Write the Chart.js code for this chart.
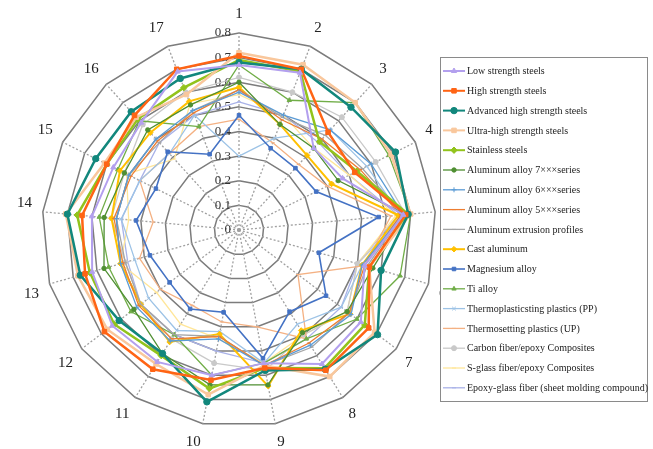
<!DOCTYPE html>
<html>
<head>
<meta charset="utf-8">
<script src="https://cdn.jsdelivr.net/npm/chart.js@4.4.0/dist/chart.umd.min.js"></script>
<style>
html, body { margin: 0; padding: 0; background: #fff; overflow: hidden; }
</style>
</head>
<body>
<canvas id="radarChart" width="653" height="452"></canvas>
<script>
// axes 1..17
const categories = ['1','2','3','4','5','6','7','8','9','10','11','12','13','14','15','16','17'];
const tickLabels = ['0','0.1','0.2','0.3','0.4','0.5','0.6','0.7','0.8'];

const seriesNames = [
    'Low strength steels',
    'High strength steels',
    'Advanced high strength steels',
    'Ultra-high strength steels',
    'Stainless steels',
    'Aluminum alloy 7\u00d7\u00d7\u00d7series',
    'Aluminum alloy 6\u00d7\u00d7\u00d7series',
    'Aluminum alloy 5\u00d7\u00d7\u00d7series',
    'Aluminum extrusion profiles',
    'Cast aluminum',
    'Magnesium alloy',
    'Ti alloy',
    'Thermoplasticsting plastics (PP)',
    'Thermosetting plastics (UP)',
    'Carbon fiber/epoxy Composites',
    'S-glass fiber/epoxy Composites',
    'Epoxy-glass fiber (sheet molding compound)'
];

const lowStrength   = [0.67, 0.685, 0.45, 0.47, 0.67, 0.53, 0.62, 0.64, 0.55, 0.60, 0.63, 0.645, 0.62, 0.60, 0.57, 0.59, 0.69];
const highStrength  = [0.707, 0.70, 0.537, 0.525, 0.68, 0.55, 0.66, 0.67, 0.57, 0.62, 0.665, 0.685, 0.65, 0.64, 0.60, 0.63, 0.70];
const advancedHSS   = [0.68, 0.70, 0.675, 0.71, 0.69, 0.60, 0.705, 0.665, 0.58, 0.71, 0.59, 0.61, 0.67, 0.70, 0.65, 0.65, 0.66];
const ultraHighSS   = [0.72, 0.72, 0.70, 0.69, 0.70, 0.55, 0.69, 0.70, 0.56, 0.68, 0.64, 0.67, 0.68, 0.706, 0.61, 0.62, 0.59];
const stainless     = [0.69, 0.69, 0.485, 0.535, 0.69, 0.55, 0.64, 0.66, 0.57, 0.655, 0.60, 0.635, 0.63, 0.66, 0.60, 0.61, 0.62];
const al7xxx        = [0.60, 0.46, 0.45, 0.45, 0.68, 0.565, 0.55, 0.49, 0.64, 0.64, 0.59, 0.535, 0.57, 0.55, 0.52, 0.55, 0.545];
const al6xxx        = [0.56, 0.50, 0.55, 0.60, 0.67, 0.52, 0.57, 0.55, 0.56, 0.45, 0.53, 0.52, 0.50, 0.50, 0.50, 0.50, 0.52];
const al5xxx        = [0.57, 0.48, 0.50, 0.55, 0.66, 0.53, 0.56, 0.54, 0.56, 0.44, 0.52, 0.51, 0.49, 0.51, 0.49, 0.49, 0.51];
const alExtrusion   = [0.57, 0.49, 0.52, 0.56, 0.67, 0.54, 0.56, 0.56, 0.56, 0.44, 0.50, 0.50, 0.48, 0.50, 0.50, 0.48, 0.52];
const castAluminum  = [0.58, 0.46, 0.41, 0.42, 0.65, 0.52, 0.565, 0.48, 0.645, 0.43, 0.535, 0.50, 0.50, 0.52, 0.54, 0.535, 0.56];
const magnesium     = [0.466, 0.356, 0.34, 0.35, 0.57, 0.337, 0.443, 0.39, 0.53, 0.34, 0.377, 0.353, 0.376, 0.42, 0.377, 0.43, 0.33];
const tiAlloy       = [0.67, 0.565, 0.70, 0.68, 0.70, 0.68, 0.60, 0.52, 0.55, 0.60, 0.50, 0.55, 0.55, 0.57, 0.55, 0.60, 0.45];
const ppPlastic     = [0.30, 0.40, 0.55, 0.58, 0.66, 0.52, 0.52, 0.45, 0.55, 0.42, 0.48, 0.46, 0.44, 0.48, 0.45, 0.42, 0.50];
const upPlastic     = [0.45, 0.38, 0.36, 0.40, 0.62, 0.53, 0.30, 0.52, 0.40, 0.38, 0.36, 0.40, 0.42, 0.35, 0.45, 0.42, 0.45];
const carbonFiber   = [0.62, 0.60, 0.62, 0.62, 0.68, 0.50, 0.55, 0.50, 0.58, 0.55, 0.52, 0.50, 0.48, 0.52, 0.52, 0.58, 0.60];
const sGlassFiber   = [0.55, 0.50, 0.45, 0.50, 0.64, 0.50, 0.55, 0.50, 0.55, 0.45, 0.45, 0.42, 0.50, 0.45, 0.51, 0.39, 0.55];
const epoxyGlassSMC = [0.52, 0.50, 0.48, 0.50, 0.65, 0.50, 0.52, 0.52, 0.55, 0.50, 0.50, 0.50, 0.47, 0.48, 0.45, 0.48, 0.50];

const seriesValues = [lowStrength, highStrength, advancedHSS, ultraHighSS, stainless, al7xxx, al6xxx, al5xxx,
    alExtrusion, castAluminum, magnesium, tiAlloy, ppPlastic, upPlastic, carbonFiber, sGlassFiber, epoxyGlassSMC];

const seriesColors = ['#b3a0ee', '#ff6414', '#12877c', '#f9c79c', '#92c31c', '#4f8f32', '#5b9bd5', '#ed7d31',
    '#a5a5a5', '#ffc000', '#4472c4', '#70ad47', '#9dc3e6', '#f4b183', '#c9c9c9', '#ffe699', '#a9b2e8'];
const seriesMarkers = ['triangle', 'rect', 'circle', 'rect', 'rectRot', 'circle', 'cross', 'line', 'line',
    'rectRot', 'rect', 'triangle', 'crossRot', 'line', 'circle', 'line', 'line'];
const seriesWidths = [2, 2.5, 2.5, 2.5, 2.5, 1.3, 1.3, 1.3, 1.3, 2, 1.6, 1.3, 1.3, 1.3, 1.3, 1.3, 1.3];
const seriesRadius = [3, 3.2, 3.2, 3.2, 3.2, 2.2, 2.5, 2, 2, 2.8, 2.5, 2.5, 2.5, 2, 2.5, 2, 2];

const datasets = seriesNames.map((name, i) => ({
    label: name,
    data: seriesValues[i],
    borderColor: seriesColors[i],
    backgroundColor: seriesColors[i],
    pointBackgroundColor: seriesColors[i],
    pointBorderColor: seriesColors[i],
    pointStyle: seriesMarkers[i],
    pointRadius: seriesRadius[i],
    pointBorderWidth: 1,
    borderWidth: seriesWidths[i],
    fill: false,
    tension: 0
}));

// tick labels sit just left of axis 1
const tickLabelPlugin = {
    id: 'tickLabelPlugin',
    beforeDatasetsDraw(chart) {
        const r = chart.scales.r;
        const ctx = chart.ctx;
        ctx.save();
        ctx.font = '13px "Liberation Serif"';
        ctx.fillStyle = '#333';
        ctx.textAlign = 'right';
        ctx.textBaseline = 'middle';
        tickLabels.forEach(t => {
            ctx.fillText(t, r.xCenter - 8, r.yCenter - r.getDistanceFromCenterForValue(parseFloat(t)));
        });
        ctx.restore();
    }
};

// boxed legend drawn over the right side of the plot
const boxLegendPlugin = {
    id: 'boxLegendPlugin',
    afterDraw(chart) {
        const ctx = chart.ctx;
        const box = { left: 440, top: 57, right: 647, bottom: 401 };
        const rowTop = 71, rowGap = 19.8;
        ctx.save();
        ctx.fillStyle = '#fff';
        ctx.fillRect(box.left, box.top, box.right - box.left, box.bottom - box.top);
        ctx.strokeStyle = '#8a8a8a';
        ctx.lineWidth = 1;
        ctx.strokeRect(box.left + 0.5, box.top + 0.5, box.right - box.left, box.bottom - box.top);

        ctx.font = '10px "Liberation Serif"';
        ctx.textBaseline = 'middle';
        chart.data.datasets.forEach((ds, i) => {
            const y = rowTop + i * rowGap;
            ctx.strokeStyle = ds.borderColor;
            ctx.fillStyle = ds.borderColor;
            ctx.lineWidth = Math.min(ds.borderWidth, 2);
            ctx.beginPath();
            ctx.moveTo(443, y);
            ctx.lineTo(465, y);
            ctx.stroke();
            ctx.lineWidth = 1;
            Chart.helpers.drawPoint(ctx, { pointStyle: ds.pointStyle, radius: ds.pointRadius, rotation: 0, borderWidth: 1 }, 454, y);
            ctx.fillStyle = '#222';
            ctx.textAlign = 'left';
            ctx.fillText(ds.label, 467, y + 0.5);
        });
        ctx.restore();
    }
};

new Chart(document.getElementById('radarChart').getContext('2d'), {
    type: 'radar',
    data: { labels: categories, datasets: datasets },
    options: {
        responsive: false,
        animation: false,
        layout: { padding: { left: 0, right: 181, top: 5, bottom: 0 } },
        plugins: { legend: { display: false }, tooltip: { enabled: false } },
        scales: {
            r: {
                min: 0,
                max: 0.8,
                ticks: { stepSize: 0.1, display: false },
                grid: { color: '#7c7c7c', lineWidth: 1.5 },
                angleLines: { color: '#a0a0a0', lineWidth: 1.3, borderDash: [2, 2] },
                pointLabels: { font: { family: 'Liberation Serif', size: 15, lineHeight: 1 }, color: '#222', padding: 11 }
            }
        }
    },
    plugins: [tickLabelPlugin, boxLegendPlugin]
});
</script>
</body>
</html>
